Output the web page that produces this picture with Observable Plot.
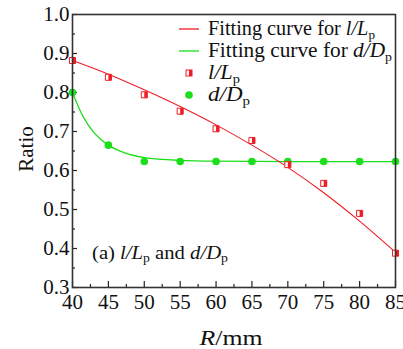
<!DOCTYPE html>
<html><head><meta charset="utf-8">
<script src="https://cdn.jsdelivr.net/npm/d3@7"></script>
<script src="https://cdn.jsdelivr.net/npm/@observablehq/plot@0.6"></script>
<style>
html,body{margin:0;padding:0;background:#fff;}
svg, svg g, svg text{font-family:"Liberation Serif","Times New Roman",serif !important;}
</style>
</head><body>
<div id="chart"></div>
<script>
// Measured points
const R = [40, 45, 50, 55, 60, 65, 70, 75, 80, 85];
const lLp = [0.882, 0.839, 0.794, 0.752, 0.707, 0.677, 0.615, 0.567, 0.490, 0.388];
const dDp = [0.800, 0.665, 0.623, 0.623, 0.623, 0.623, 0.623, 0.623, 0.623, 0.623];
// Fitting curves
const fitLR = [40, 45, 50, 55, 60, 65, 70, 75, 80, 85];
const fitL  = [0.882, 0.847, 0.807, 0.764, 0.717, 0.665, 0.608, 0.543, 0.470, 0.390];
const fitDR = [40, 41, 42, 43, 44, 45, 47, 50, 55, 60, 70, 85];
const fitD  = [0.800, 0.756, 0.722, 0.697, 0.679, 0.665, 0.647, 0.633, 0.626, 0.624, 0.623, 0.623];
// Ticks
const xTicks = [40, 45, 50, 55, 60, 65, 70, 75, 80, 85];
const xMinor = [42.5, 47.5, 52.5, 57.5, 62.5, 67.5, 72.5, 77.5, 82.5];
const yTicks = [0.3, 0.4, 0.5, 0.6, 0.7, 0.8, 0.9, 1.0];
const yMinor = [0.35, 0.45, 0.55, 0.65, 0.75, 0.85, 0.95];
const yTickLabels = ["0.3", "0.4", "0.5", "0.6", "0.7", "0.8", "0.9", "1.0"];

const W = 403, H = 349;
const mL = 72, mR = 8, mT = 14, mB = 62;
const pw = W - mL - mR, ph = H - mT - mB;

const pts = R.map((r, i) => ({r, l: lLp[i], d: dDp[i]}));
const fl = fitLR.map((r, i) => ({r, v: fitL[i]}));
const fd = fitDR.map((r, i) => ({r, v: fitD[i]}));
const yt = yTicks.map((v, i) => ({v, t: yTickLabels[i]}));

const halfSquare = {
  draw(ctx, size) {
    const s = Math.sqrt(size);
    ctx.moveTo(0, -s / 2);
    ctx.lineTo(s / 2, -s / 2);
    ctx.lineTo(s / 2, s / 2);
    ctx.lineTo(0, s / 2);
    ctx.closePath();
  }
};

const red = "#ee1c24", green = "#1adf1a";
const serif = "Liberation Serif";

const plot = Plot.plot({
  width: W, height: H,
  marginLeft: mL, marginRight: mR, marginTop: mT, marginBottom: mB,
  style: {fontFamily: "'Liberation Serif','Times New Roman',serif", fontSize: "20px", background: "#fff", color: "#111"},
  x: {domain: [40, 85], axis: null},
  y: {domain: [0.3, 1.0], axis: null},
  marks: [
    Plot.text(xTicks, {x: d => d, text: d => String(d), frameAnchor: "bottom", lineAnchor: "middle", dy: 15,
      fontSize: 21, fontFamily: serif, fill: "#111", ariaLabel: "xticklabels"}),
    Plot.text(yt, {y: "v", text: "t", frameAnchor: "left", lineAnchor: "middle", dx: -3, textAnchor: "end",
      fontSize: 21, fontFamily: serif, fill: "#111", ariaLabel: "yticklabels"}),
    Plot.ruleX(xTicks, {x: d => d, insetTop: ph - 6, stroke: "#222", strokeWidth: 1.2}),
    Plot.ruleX(xMinor, {x: d => d, insetTop: ph - 3, stroke: "#222", strokeWidth: 1.2}),
    Plot.ruleY(yTicks, {y: d => d, insetRight: pw - 5, stroke: "#222", strokeWidth: 1.2}),
    Plot.ruleY(yMinor, {y: d => d, insetRight: pw - 3, stroke: "#222", strokeWidth: 1.2}),
    Plot.line(fd, {x: "r", y: "v", stroke: green, strokeWidth: 1.3, curve: "monotone-x"}),
    Plot.line(fl, {x: "r", y: "v", stroke: red, strokeWidth: 1.1, curve: "monotone-x"}),
    Plot.dot(pts, {x: "r", y: "d", r: 3.8, fill: green, stroke: "none"}),
    Plot.dot(pts, {x: "r", y: "l", symbol: "square", r: 3.4, fill: "#fff", stroke: red, strokeWidth: 1}),
    Plot.dot(pts, {x: "r", y: "l", symbol: halfSquare, r: 3.4, fill: red, stroke: "none"}),
    Plot.frame({stroke: "#333", strokeWidth: 1.6})
  ]
});

document.getElementById("chart").appendChild(plot);
const svg = d3.select(plot);

// Legend
const lg = svg.append("g").attr("font-size", 20).attr("fill", "#111").attr("text-anchor", "start");
const rows = [
  {y: 29, kind: "line", color: red, pre: "Fitting curve for ", a: "l", A: "L", len: 167},
  {y: 51, kind: "line", color: green, pre: "Fitting curve for ", a: "d", A: "D", len: 184},
  {y: 73, kind: "sq", color: red, pre: "", a: "l", A: "L", len: 32},
  {y: 95, kind: "dot", color: green, pre: "", a: "d", A: "D", len: 42}
];
rows.forEach(rw => {
  if (rw.kind === "line") {
    lg.append("line").attr("x1", 179).attr("x2", 199).attr("y1", rw.y).attr("y2", rw.y)
      .attr("stroke", rw.color).attr("stroke-width", 1.3);
  } else if (rw.kind === "sq") {
    lg.append("rect").attr("x", 186).attr("y", rw.y - 3).attr("width", 6).attr("height", 6)
      .attr("fill", "#fff").attr("stroke", rw.color);
    lg.append("rect").attr("x", 189).attr("y", rw.y - 3).attr("width", 3).attr("height", 6)
      .attr("fill", rw.color);
  } else {
    lg.append("circle").attr("cx", 189).attr("cy", rw.y).attr("r", 3.8).attr("fill", rw.color);
  }
  const t = lg.append("text").attr("x", 208).attr("y", rw.y + 6).attr("text-anchor", "start")
    .attr("textLength", rw.len).attr("lengthAdjust", "spacingAndGlyphs");
  if (rw.pre) t.append("tspan").text(rw.pre);
  t.append("tspan").attr("font-style", "italic").text(rw.a + "/" + rw.A);
  t.append("tspan").attr("font-size", 13).attr("dy", 4).text("p");
});

// Panel annotation
const an = svg.append("text").attr("x", 92).attr("y", 259).attr("font-size", 18)
  .attr("fill", "#111").attr("text-anchor", "start")
  .attr("textLength", 136).attr("lengthAdjust", "spacingAndGlyphs");
an.append("tspan").text("(a) ");
an.append("tspan").attr("font-style", "italic").text("l/L");
an.append("tspan").attr("font-size", 12).attr("dy", 3).text("p");
an.append("tspan").attr("dy", -3).text(" and ");
an.append("tspan").attr("font-style", "italic").text("d/D");
an.append("tspan").attr("font-size", 12).attr("dy", 3).text("p");

// Axis titles
const xt = svg.append("text").attr("x", 231).attr("y", 345).attr("text-anchor", "middle")
  .attr("font-size", 21).attr("fill", "#111")
  .attr("textLength", 63).attr("lengthAdjust", "spacingAndGlyphs");
xt.append("tspan").attr("font-style", "italic").text("R");
xt.append("tspan").text("/mm");

svg.append("text").attr("transform", "translate(33,149) rotate(-90)").attr("text-anchor", "middle")
  .attr("font-size", 21).attr("fill", "#111").text("Ratio");
</script>
</body></html>
